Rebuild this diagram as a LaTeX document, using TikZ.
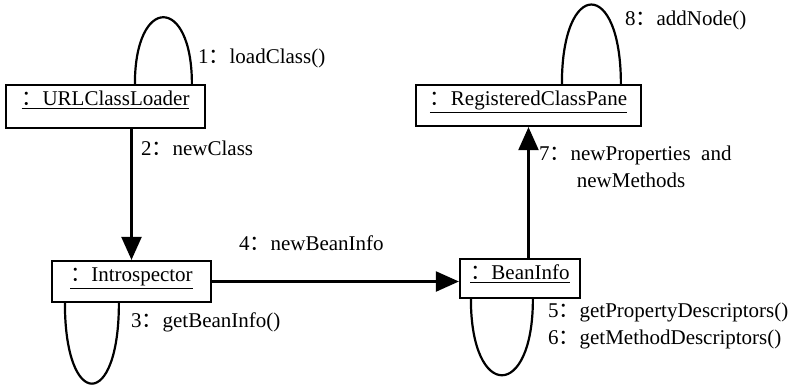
\documentclass[tikz,border=0pt]{standalone}
\usepackage{fontspec}
\setmainfont{Liberation Serif}
\newfontfamily\cjk{Noto Sans CJK SC}
\usetikzlibrary{arrows.meta}
\newcommand{\mh}{{\cjk ：}}
\begin{document}
\begin{tikzpicture}[x=0.5pt, y=-0.5pt, line width=1.1pt,
    >={Triangle[length=11.5pt,width=10pt]},
    obj/.style={draw, rectangle, inner sep=0pt, text height=10pt,
      font=\fontsize{10.5}{12}\selectfont},
    msg/.style={anchor=base west, align=left, inner sep=0pt,
      font=\fontsize{10.5}{13.5}\selectfont}]
    \useasboundingbox (0,0) rectangle (805,388);
    % 对象
    \node[obj, minimum width=99.5pt, text depth=11.5pt] (url) at (105.5,106.5) {\underline{\mh URLClassLoader}};
    \node[obj, minimum width=79.5pt, text depth=10.5pt] (intro) at (131.5,281.5) {\underline{\mh Introspector}};
    \node[obj, minimum width=60pt, text depth=9.5pt] (bean) at (520,278.5) {\underline{\mh BeanInfo}};
    \node[obj, minimum width=112.5pt, text depth=10.5pt] (reg) at (528.5,105.5) {\underline{\mh RegisteredClassPane}};
    % 消息
    \draw[->] (url.south -| intro.north) -- (intro.north);
    \draw[->] (intro.east) -- (intro.east -| bean.west);
    \draw[->] (bean.north -| reg.south) -- (reg.south);
    % 自调用
    \draw ([xshift=65pt]url.north west) to[out=90, in=90, looseness=4] ([xshift=93.5pt]url.north west);
    \draw ([xshift=73.5pt]reg.north west) to[out=90, in=90, looseness=4.6] ([xshift=103pt]reg.north west);
    \draw ([xshift=7pt]intro.south west) to[out=-90, in=-90, looseness=5.1] ([xshift=34pt]intro.south west);
    \draw ([xshift=6pt]bean.south west) to[out=-90, in=-90, looseness=4.2] ([xshift=37pt]bean.south west);
    % 标签
    \node[msg] (m1) at (197,63) {1\mh loadClass()};
    \node[msg] (m2) at (140,155) {2\mh newClass};
    \node[msg] (m3) at (130,327) {3\mh getBeanInfo()};
    \node[msg] (m4) at (238,250) {4\mh newBeanInfo};
    \node[msg] (m56) at (547,344) {5\mh getPropertyDescriptors()\\6\mh getMethodDescriptors()};
    \node[msg] (m7) at (538,187) {7\mh newProperties\ \ and\\\hspace*{1.8em}newMethods};
    \node[msg] (m8) at (624,25) {8\mh addNode()};
\end{tikzpicture}
\end{document}
